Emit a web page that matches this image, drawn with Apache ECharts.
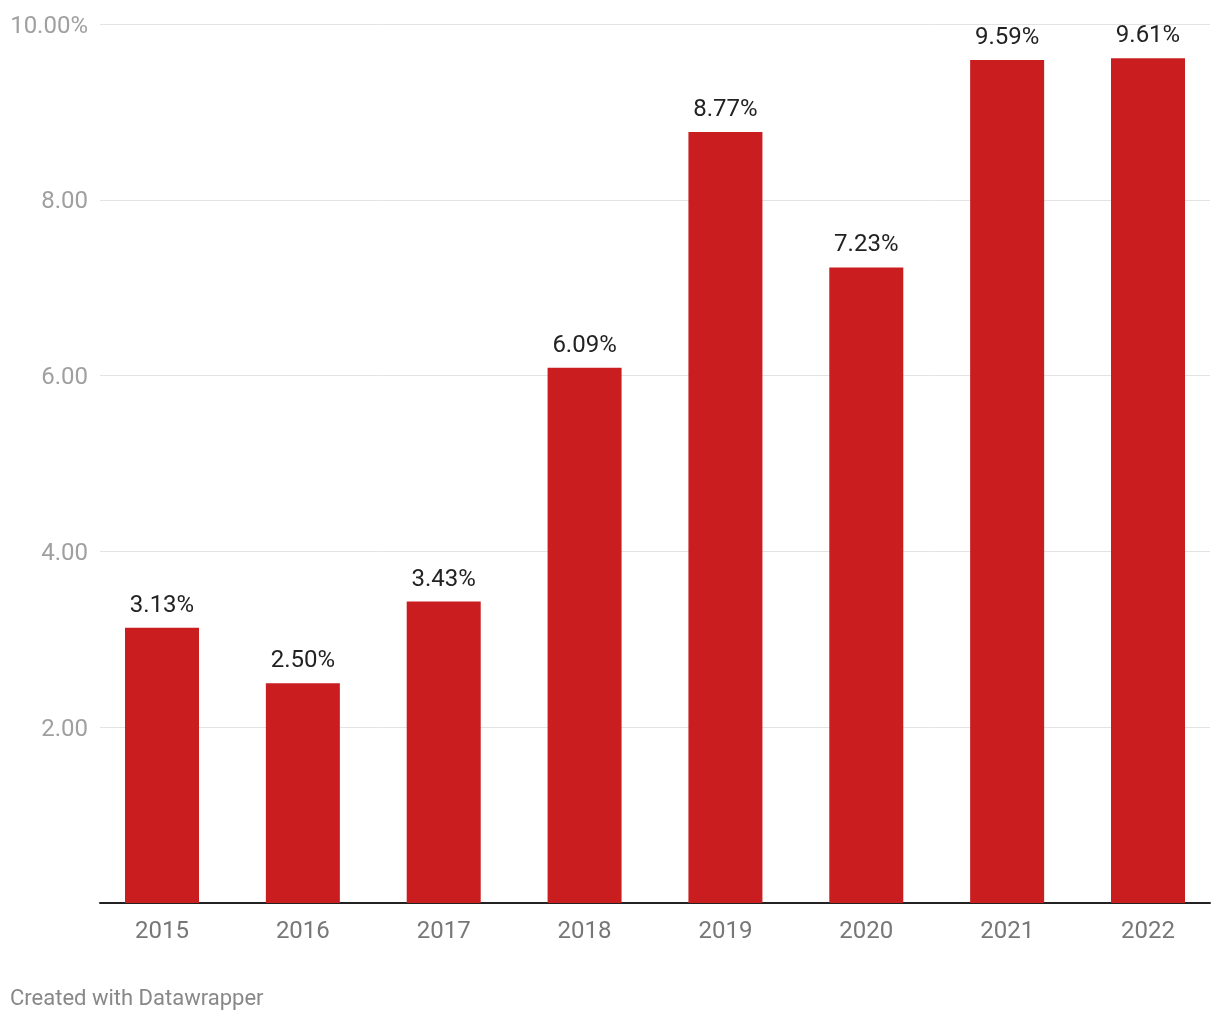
<!DOCTYPE html>
<html>
<head>
<meta charset="utf-8">
<script src="https://cdn.jsdelivr.net/npm/echarts@6/dist/echarts.min.js"></script>
<style>
html,body{margin:0;padding:0;background:#fff;}
#c{width:1220px;height:1020px;}
</style>
</head>
<body>
<div id="c"></div>
<script>
const categories = ['2015','2016','2017','2018','2019','2020','2021','2022'];
const values = [3.13, 2.50, 3.43, 6.09, 8.77, 7.23, 9.59, 9.61];
const yTicks = [0, 2, 4, 6, 8, 10];

const FONT = 'Roboto';
const chart = echarts.init(document.getElementById('c'), null, {renderer:'canvas'});
const option = {
  backgroundColor: '#ffffff',
  animation: false,
  grid: [
    {left: 100, right: 10, top: 24, bottom: 117, containLabel: false},
    {left: 91.57, right: 1.57, top: 24, bottom: 117, containLabel: false}
  ],
  xAxis: [
    {
      gridIndex: 0, type: 'category', data: categories,
      axisLine: {show: true, lineStyle: {color: '#222222', width: 2}},
      axisTick: {show: false}, axisLabel: {show: false}, splitLine: {show: false}
    },
    {
      gridIndex: 1, type: 'category', data: categories,
      axisLine: {show: false}, axisTick: {show: false},
      axisLabel: {show: true, color: '#777777', fontFamily: FONT, fontSize: 24, margin: 16.5},
      splitLine: {show: false}
    }
  ],
  yAxis: [
    {
      gridIndex: 0, type: 'value', min: yTicks[0], max: yTicks[yTicks.length-1], interval: 2,
      axisLine: {show: false}, axisTick: {show: false},
      splitLine: {show: true, lineStyle: {color: '#e3e3e3', width: 1}},
      axisLabel: {
        show: true, color: '#a0a0a0', fontFamily: FONT, fontSize: 24, margin: 12,
        formatter: function (v) {
          if (v === 0) return '';
          if (v === yTicks[yTicks.length-1]) return '{a|' + v.toFixed(2) + '%}';
          return '{a|' + v.toFixed(2) + '}';
        },
        rich: {
          a: {color: '#a0a0a0', fontFamily: FONT, fontSize: 24, padding: [5, 0, 0, 0]}
        }
      }
    },
    {
      gridIndex: 1, type: 'value', min: yTicks[0], max: yTicks[yTicks.length-1], interval: 2,
      show: false, splitLine: {show: false}
    }
  ],
  series: [
    {
      type: 'bar', xAxisIndex: 1, yAxisIndex: 1, data: values,
      barWidth: 74,
      itemStyle: {color: '#c91d1f'},
      label: {
        show: true, position: 'top', distance: 10,
        color: '#222222', fontFamily: FONT, fontSize: 24,
        formatter: function (p) { return p.value.toFixed(2) + '%'; }
      }
    }
  ],
  graphic: [
    {
      type: 'text', left: 10, top: 988,
      style: {text: 'Created with Datawrapper', fill: '#888888', font: '22px Roboto'}
    }
  ]
};
chart.setOption(option);
</script>
</body>
</html>
